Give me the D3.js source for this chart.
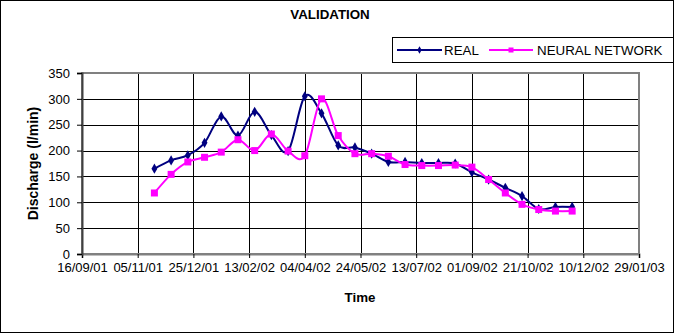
<!DOCTYPE html>
<html>
<head>
<meta charset="utf-8">
<script src="https://cdn.jsdelivr.net/npm/d3@7"></script>
<style>
  html, body { margin: 0; padding: 0; background: #fff; }
  svg { display: block; }
  text { font-family: Arial, "Liberation Sans", sans-serif; }
</style>
</head>
<body>
<svg id="chart" width="674" height="333"></svg>
<script>
// ---- data ----
const dates = [
  "20/11/01","05/12/01","20/12/01","04/01/02","19/01/02","03/02/02","18/02/02",
  "05/03/02","20/03/02","04/04/02","19/04/02","04/05/02","19/05/02","03/06/02",
  "18/06/02","03/07/02","18/07/02","02/08/02","17/08/02","01/09/02","16/09/02",
  "01/10/02","16/10/02","31/10/02","15/11/02","30/11/02"
];
const realValues = [
  165, 181, 191, 215, 266, 229, 275, 230, 199, 305, 272, 210, 206,
  194, 178, 178, 176, 176, 175, 158, 144, 128, 112, 87, 91, 91
];
const neuralValues = [
  118, 154, 178, 187, 197, 221, 200, 232, 199, 190, 300, 229, 194,
  194, 189, 173, 171, 171, 172, 168, 144, 118, 96, 86, 83, 83
];
const xTickLabels = [
  "16/09/01","05/11/01","25/12/01","13/02/02","04/04/02","24/05/02",
  "13/07/02","01/09/02","21/10/02","10/12/02","29/01/03"
];
const yTickValues = [0, 50, 100, 150, 200, 250, 300, 350];
const seriesNames = ["REAL", "NEURAL NETWORK"];
const seriesColors = ["#000080", "#FF00FF"];

// ---- setup ----
const parse = d3.utcParse("%d/%m/%y");
const svg = d3.select("#chart");
const W = 674, H = 333;
const plot = { left: 82, right: 639, top: 73, bottom: 254 };

const x = d3.scaleUtc()
  .domain([parse(xTickLabels[0]), parse(xTickLabels[xTickLabels.length - 1])])
  .range([plot.left, plot.right]);
const y = d3.scaleLinear().domain([0, 350]).range([plot.bottom, plot.top]);

// outer border
svg.append("rect").attr("x", 0.5).attr("y", 0.5).attr("width", W - 1).attr("height", H - 1)
  .attr("fill", "#fff").attr("stroke", "#000").attr("stroke-width", 1);

// plot area background
svg.append("rect").attr("x", plot.left).attr("y", plot.top)
  .attr("width", plot.right - plot.left).attr("height", plot.bottom - plot.top)
  .attr("fill", "#fff");

// gridlines
const xTickDates = xTickLabels.map(parse);
svg.append("g").selectAll("line.hg").data(yTickValues.slice(1, -1)).join("line")
  .attr("x1", plot.left).attr("x2", plot.right)
  .attr("y1", d => Math.round(y(d)) + 0.5).attr("y2", d => Math.round(y(d)) + 0.5)
  .attr("stroke", "#000").attr("stroke-width", 1);
svg.append("g").selectAll("line.vg").data(xTickDates.slice(1, -1)).join("line")
  .attr("x1", d => Math.round(x(d)) + 0.5).attr("x2", d => Math.round(x(d)) + 0.5)
  .attr("y1", plot.top).attr("y2", plot.bottom)
  .attr("stroke", "#000").attr("stroke-width", 1);

// plot border (grey)
svg.append("rect").attr("x", plot.left).attr("y", plot.top)
  .attr("width", plot.right - plot.left).attr("height", plot.bottom - plot.top)
  .attr("fill", "none").attr("stroke", "#808080").attr("stroke-width", 2);

// axes
const xAxis = d3.axisBottom(x).tickValues(xTickDates)
  .tickFormat(d3.utcFormat("%d/%m/%y")).tickSize(4).tickPadding(5);
const gx = svg.append("g").attr("transform", `translate(0,${plot.bottom})`).call(xAxis);
gx.select(".domain").attr("stroke", "#808080").attr("stroke-width", 2);
gx.selectAll(".tick line").attr("stroke", "#000");
gx.selectAll(".tick text").attr("font-size", 13).attr("fill", "#000")
  .attr("font-family", "Arial, 'Liberation Sans', sans-serif");

const yAxis = d3.axisLeft(y).tickValues(yTickValues).tickSize(5).tickPadding(7);
const gy = svg.append("g").attr("transform", `translate(${plot.left},0)`).call(yAxis);
gy.select(".domain").attr("stroke", "#404040").attr("stroke-width", 2);
gy.selectAll(".tick line").attr("stroke", "#000");
gy.selectAll(".tick text").attr("font-size", 13).attr("fill", "#000")
  .attr("font-family", "Arial, 'Liberation Sans', sans-serif");

// series
const allSeries = [realValues, neuralValues];
const line = d3.line()
  .x((d, i) => x(parse(dates[i])))
  .y(d => y(d))
  .curve(d3.curveCardinal.tension(0));

allSeries.forEach((vals, si) => {
  svg.append("path").datum(vals).attr("d", line)
    .attr("fill", "none").attr("stroke", seriesColors[si]).attr("stroke-width", 2);
});

const diamond = d3.symbol().type(d3.symbolDiamond).size(30);
svg.append("g").selectAll("path").data(realValues).join("path")
  .attr("d", diamond)
  .attr("transform", (d, i) => `translate(${x(parse(dates[i]))},${y(d)})`)
  .attr("fill", seriesColors[0]);

svg.append("g").selectAll("rect").data(neuralValues).join("rect")
  .attr("x", (d, i) => x(parse(dates[i])) - 3.5)
  .attr("y", d => y(d) - 3.5)
  .attr("width", 7).attr("height", 7)
  .attr("fill", seriesColors[1]);

// title
svg.append("text").attr("x", 330).attr("y", 19).attr("text-anchor", "middle")
  .attr("font-size", 13.33).attr("font-weight", "bold").text("VALIDATION");

// axis titles
svg.append("text").attr("x", 360).attr("y", 302).attr("text-anchor", "middle")
  .attr("font-size", 13.33).attr("font-weight", "bold").text("Time");
svg.append("text")
  .attr("transform", `translate(38,${(plot.top + plot.bottom) / 2}) rotate(-90)`)
  .attr("text-anchor", "middle")
  .attr("font-size", 14).attr("font-weight", "bold").text("Discharge (l/min)");

// legend
const lg = svg.append("g");
lg.append("rect").attr("x", 392.5).attr("y", 37.5).attr("width", 281).attr("height", 25)
  .attr("fill", "#fff").attr("stroke", "#000").attr("stroke-width", 1);
const legendItems = [
  { x1: 397, x2: 442, tx: 444 },
  { x1: 489, x2: 533, tx: 537 }
];
legendItems.forEach((it, i) => {
  lg.append("line").attr("x1", it.x1).attr("x2", it.x2).attr("y1", 50).attr("y2", 50)
    .attr("stroke", seriesColors[i]).attr("stroke-width", 2);
  const cx = (it.x1 + it.x2) / 2;
  if (i === 0) {
    lg.append("path").attr("d", d3.symbol().type(d3.symbolDiamond).size(16))
      .attr("transform", `translate(${cx},50)`).attr("fill", seriesColors[i]);
  } else {
    lg.append("rect").attr("x", cx - 2.5).attr("y", 47.5).attr("width", 5).attr("height", 5)
      .attr("fill", seriesColors[i]);
  }
  lg.append("text").attr("x", it.tx).attr("y", 55).attr("font-size", 13.33)
    .attr("fill", "#000").text(seriesNames[i]);
});
</script>
</body>
</html>
